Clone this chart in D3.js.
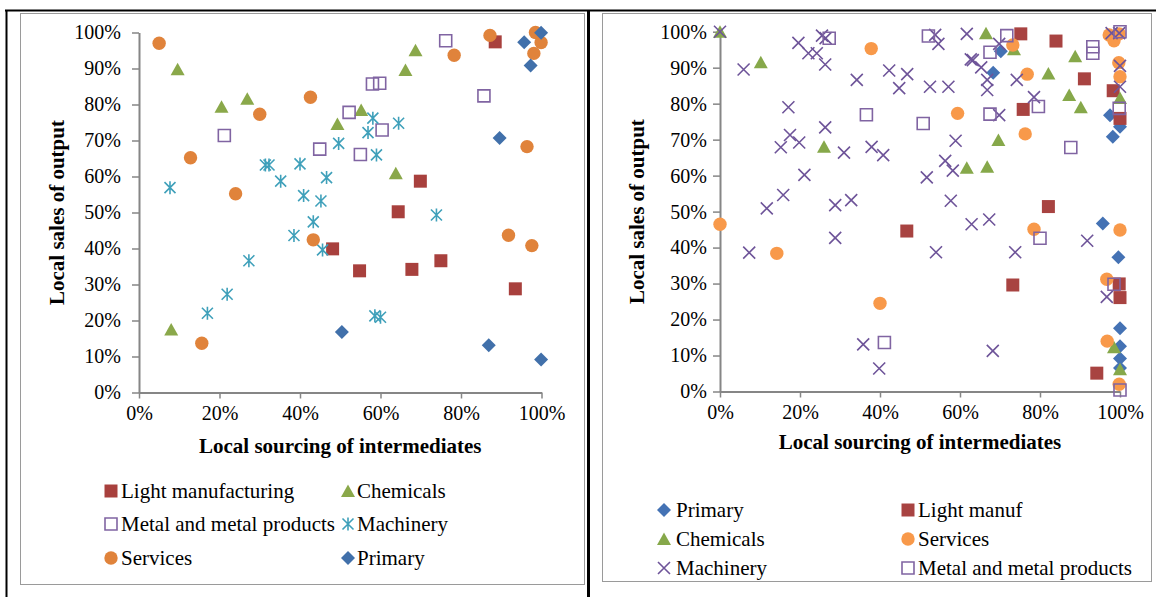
<!DOCTYPE html>
<meta charset="utf-8">
<head>
    <title>Local sourcing vs local sales</title>
    <script type="text/javascript" src="https://cdn.jsdelivr.net/npm/d3@7/dist/d3.min.js"></script>
    <style>
        body { margin: 0; background: #fff; }
        text { font-family: "Liberation Serif", "Times New Roman", serif; fill: #000; }
    </style>
</head>
<body>
<script>
    // each point: [local sourcing of intermediates %, local sales of output %]
    // ---- left panel ----
    const leftLightManuf = [[48.1,39.9],[54.8,33.8],[64.4,50.2],[67.8,34.2],[69.9,58.7],[75.0,36.6],[88.5,97.4],[93.5,28.8]]
    const leftChemicals = [[8.0,17.5],[9.6,89.8],[20.5,79.4],[26.9,81.6],[49.3,74.6],[55.2,78.5],[63.8,60.9],[66.2,89.6],[68.7,95.1]]
    const leftMetal = [[21.2,71.4],[44.9,67.6],[52.2,77.8],[55.0,66.1],[58.0,85.7],[59.8,85.9],[60.4,72.9],[76.2,97.7],[85.7,82.4]]
    const leftMachinery = [[7.7,56.9],[17.0,22.0],[21.9,27.3],[27.3,36.6],[31.4,63.2],[32.3,63.2],[35.2,58.7],[38.5,43.6],[40.0,63.5],
        [40.9,54.7],[43.3,47.4],[45.2,53.2],[45.6,39.6],[46.6,59.7],[49.6,69.2],[56.9,72.2],[58.1,76.2],[58.6,21.3],[59.0,66.0],
        [60.0,20.9],[64.5,74.8],[73.9,49.3]]
    const leftServices = [[5.0,97.0],[12.8,65.2],[15.6,13.7],[24.0,55.2],[30.0,77.3],[42.6,82.0],[43.3,42.4],[78.3,93.7],[87.2,99.2],
        [91.8,43.7],[96.4,68.3],[97.6,40.8],[98.1,94.2],[98.5,100],[99.9,97.2]]
    const leftPrimary = [[50.4,16.8],[86.9,13.1],[89.6,70.7],[95.7,97.3],[97.3,90.8],[99.9,99.9],[99.9,9.2]]

    // ---- right panel ----
    const rightPrimary = [[70.2,94.6],[68.3,88.6],[95.7,46.7],[97.5,76.8],[100,73.6],[98.2,70.8],[99.6,37.3],[100,17.6],[100,12.6],[100,9.2],[100,6.5]]
    const rightLightManuf = [[46.7,44.6],[73.2,29.6],[75.2,99.4],[75.8,78.4],[82.1,51.4],[84.0,97.4],[91.1,86.9],[94.2,5.1],[98.3,83.6],
        [99.8,29.9],[100,26.1],[100,75.9]]
    const rightChemicals = [[0,100],[10.2,91.5],[26.0,68.0],[61.7,62.2],[66.5,99.6],[66.8,62.5],[69.6,69.9],[73.5,95.1],[82.1,88.4],
        [87.3,82.4],[88.8,93.2],[90.2,79.0],[98.5,12.3],[100,81.6],[100,6.2]]
    const rightServices = [[0,46.5],[14.2,38.4],[37.8,95.3],[40.0,24.5],[59.4,77.3],[73.2,96.3],[76.3,71.6],[76.8,88.2],[78.5,45.1],
        [96.7,31.2],[96.8,14.0],[97.3,99.1],[98.5,97.5],[99.8,99.4],[99.7,91.4],[100,87.5],[100,44.9],[99.8,2.0]]
    const rightMachinery = [[0,100],[5.9,89.5],[7.3,38.6],[11.7,50.9],[15.2,67.9],[15.8,54.6],[17.1,79.0],[17.5,71.3],[19.6,96.9],
        [19.8,69.2],[21.1,60.2],[22.1,94.0],[24.2,94.0],[25.5,98.9],[26.4,98.2],[26.3,90.9],[26.3,73.4],[28.8,51.8],[28.8,42.7],
        [31.0,66.4],[32.8,53.2],[34.2,86.6],[35.8,13.1],[37.9,68.0],[39.8,6.4],[40.8,65.7],[42.3,89.2],[44.8,84.3],[46.8,88.2],
        [51.7,59.5],[52.5,84.7],[53.8,99.1],[54.0,38.7],[54.6,96.6],[56.3,64.1],[57.1,84.7],[57.7,53.0],[58.2,61.4],[58.9,69.7],
        [61.7,99.4],[62.7,92.3],[63.2,92.1],[62.9,46.5],[65.3,90.1],[66.8,86.6],[66.8,83.8],[67.3,47.8],[68.2,11.3],[69.8,96.6],
        [69.8,76.8],[73.8,38.7],[74.2,86.6],[78.5,81.8],[91.8,41.9],[96.7,26.3],[97.9,99.6],[99.8,99.6],[100,90.5],[100,84.7]]
    const rightMetal = [[27.3,98.2],[36.6,76.9],[41.1,13.6],[50.8,74.5],[52.1,98.8],[67.5,94.3],[67.5,77.1],[71.7,98.9],[79.6,79.2],
        [80.0,42.6],[87.7,67.8],[93.2,95.8],[93.2,94.0],[98.5,29.8],[99.8,78.7],[100,100],[100,0.4]]

    const xTicks = [0, 20, 40, 60, 80, 100]
    const yTicks = [0, 10, 20, 30, 40, 50, 60, 70, 80, 90, 100]
    const xTitle = "Local sourcing of intermediates"
    const yTitle = "Local sales of output"

    // marker shapes
    const shapes = {
        square: {d: "M-6.5,-6.5h13v13h-13Z", fill: true},
        open: {d: "M-6,-6h12v12h-12Z", fill: false},
        triangle: {d: "M0,-6.5L7,6L-7,6Z", fill: true},
        diamond: {d: "M0,-7L7,0L0,7L-7,0Z", fill: true},
        circle: {d: "M6.7,0A6.7,6.7 0 1,1 -6.7,0A6.7,6.7 0 1,1 6.7,0Z", fill: true},
        star: {d: "M0,-6.5V6.5M-5.5,-5.5L5.5,5.5M-5.5,5.5L5.5,-5.5", fill: false},
        cross: {d: "M-6,-6L6,6M-6,6L6,-6", fill: false}
    }

    const left = {
        xRange: [139, 541.5], yRange: [392.5, 32.5], yTitleX: 57, yPad: 11, xTitleY: 453,
        series: [
            {name: "Light manufacturing", data: leftLightManuf, shape: "square", color: "#A8403D"},
            {name: "Chemicals", data: leftChemicals, shape: "triangle", color: "#8AA84A"},
            {name: "Metal and metal products", data: leftMetal, shape: "open", color: "#8064A2"},
            {name: "Machinery", data: leftMachinery, shape: "star", color: "#3FA0BA"},
            {name: "Services", data: leftServices, shape: "circle", color: "#E0833B"},
            {name: "Primary", data: leftPrimary, shape: "diamond", color: "#4170AA"}
        ],
        legendRows: [491, 524, 558], legendMarkX: [111, 348], legendTextX: [121, 357]
    }
    const right = {
        xRange: [720, 1120], yRange: [391.5, 31.7], yTitleX: 637, yPad: 6, xTitleY: 449,
        series: [
            {name: "Primary", data: rightPrimary, shape: "diamond", color: "#4472B4"},
            {name: "Light manuf", data: rightLightManuf, shape: "square", color: "#A84341"},
            {name: "Chemicals", data: rightChemicals, shape: "triangle", color: "#86A84A"},
            {name: "Services", data: rightServices, shape: "circle", color: "#F8994A"},
            {name: "Machinery", data: rightMachinery, shape: "cross", color: "#6E5499"},
            {name: "Metal and metal products", data: rightMetal, shape: "open", color: "#8064A2"}
        ],
        legendRows: [510, 539, 568], legendMarkX: [664, 908], legendTextX: [676, 918]
    }

    let svg = d3.select("body").append("svg")
        .attr("width", 1156)
        .attr("height", 597)

    // chart frames
    svg.append("rect").attr("x", 20.5).attr("y", 13.5).attr("width", 564).attr("height", 571)
        .attr("fill", "none").attr("stroke", "#9a9a9a")
    svg.append("rect").attr("x", 602.5).attr("y", 13.5).attr("width", 549).attr("height", 568)
        .attr("fill", "none").attr("stroke", "#9a9a9a")

    // page table borders
    svg.append("line").attr("x1", 5).attr("x2", 1156).attr("y1", 10.5).attr("y2", 10.5).attr("stroke", "#000").attr("stroke-width", 2)
    svg.append("line").attr("x1", 6.5).attr("x2", 6.5).attr("y1", 10).attr("y2", 597).attr("stroke", "#000").attr("stroke-width", 2)
    svg.append("line").attr("x1", 588.5).attr("x2", 588.5).attr("y1", 10).attr("y2", 597).attr("stroke", "#000").attr("stroke-width", 3)

    function addMarker(g, s, x, y) {
        let sh = shapes[s.shape]
        g.append("path")
            .attr("transform", "translate(" + x + "," + y + ")")
            .attr("d", sh.d)
            .attr("fill", sh.fill ? s.color : "none")
            .attr("stroke", sh.fill ? "none" : s.color)
            .attr("stroke-width", 1.6)
    }

    function drawPanel(p) {
        let x = d3.scaleLinear().domain([0, 100]).range(p.xRange)
        let y = d3.scaleLinear().domain([0, 100]).range(p.yRange)
        let g = svg.append("g")

        g.append("g")
            .attr("transform", "translate(" + p.xRange[0] + ",0)")
            .call(d3.axisLeft(y).tickValues(yTicks).tickFormat(d => d + "%").tickSize(7).tickSizeOuter(0).tickPadding(p.yPad))
        g.append("g")
            .attr("transform", "translate(0," + p.yRange[0] + ")")
            .call(d3.axisBottom(x).tickValues(xTicks).tickFormat(d => d + "%").tickSize(6).tickSizeOuter(0).tickPadding(7))

        g.selectAll(".domain").attr("stroke", "#868686").attr("stroke-width", 2)
        g.selectAll(".tick line").attr("stroke", "#868686").attr("stroke-width", 1.5)
        g.selectAll(".tick text").attr("font-family", "Liberation Serif").attr("font-size", 20).attr("fill", "#000")

        g.append("text")
            .attr("x", (p.xRange[0] + p.xRange[1]) / 2)
            .attr("y", p.xTitleY)
            .attr("text-anchor", "middle")
            .attr("font-weight", "bold")
            .attr("font-size", 21)
            .text(xTitle)
        g.append("text")
            .attr("transform", "translate(" + p.yTitleX + "," + (p.yRange[0] + p.yRange[1]) / 2 + ") rotate(-90)")
            .attr("dy", "0.35em")
            .attr("text-anchor", "middle")
            .attr("font-weight", "bold")
            .attr("font-size", 21)
            .text(yTitle)

        // series, drawn in legend order
        p.series.forEach(function (s) {
            let sg = g.append("g")
            s.data.forEach(d => addMarker(sg, s, x(d[0]), y(d[1])))
        })

        // legend
        p.series.forEach(function (s, i) {
            let row = Math.floor(i / 2), col = i % 2
            let ly = p.legendRows[row]
            addMarker(g, s, p.legendMarkX[col], ly)
            g.append("text")
                .attr("x", p.legendTextX[col])
                .attr("y", ly + 7)
                .attr("font-size", 21)
                .text(s.name)
        })
    }

    drawPanel(left)
    drawPanel(right)
</script>
</body>
</html>
